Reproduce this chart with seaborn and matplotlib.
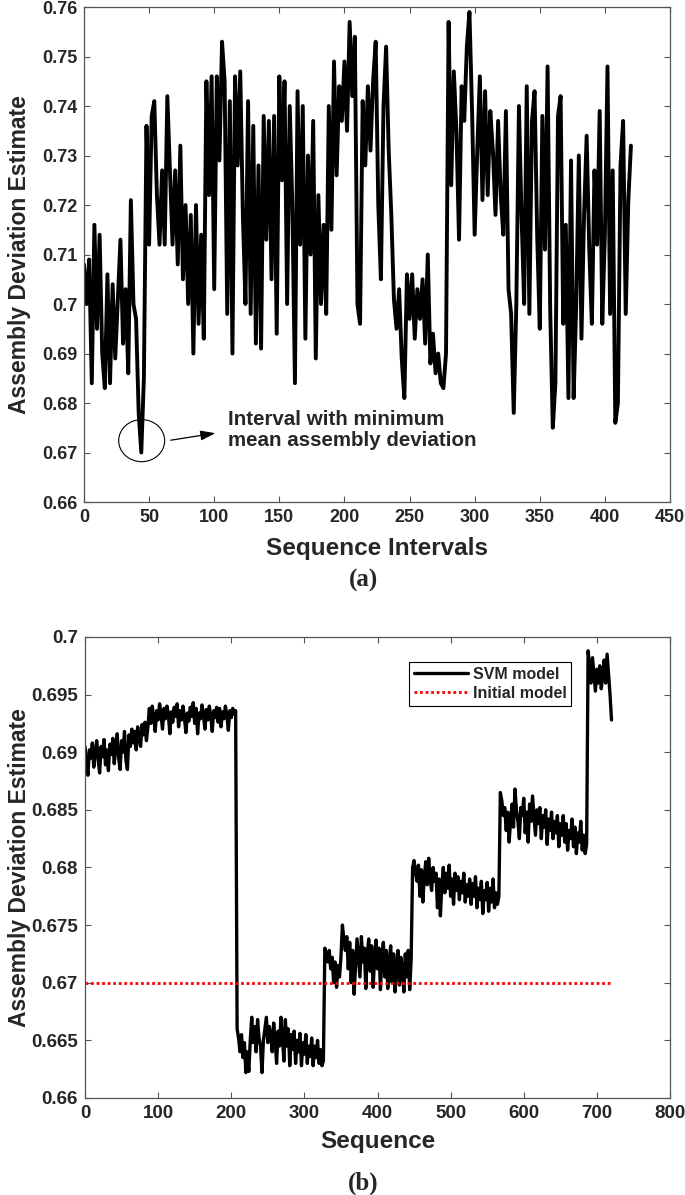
"""Assembly deviation estimate: interval sweep (a) and SVM vs initial model (b)."""

import numpy as np
import pandas as pd
import matplotlib
matplotlib.use("Agg")
import matplotlib.pyplot as plt
from matplotlib.patches import Ellipse
import seaborn as sns

# --- (a) mean assembly deviation per sequence interval (every 2nd interval) ---
interval_vals = [
    0.708, 0.700, 0.709, 0.684, 0.716, 0.695, 0.714, 0.690, 0.683, 0.706,
    0.684, 0.704, 0.689, 0.701, 0.713, 0.692, 0.703, 0.686, 0.721, 0.700,
    0.697, 0.678, 0.670, 0.685, 0.736, 0.712, 0.738, 0.741, 0.722, 0.712,
    0.727, 0.712, 0.742, 0.727, 0.712, 0.727, 0.708, 0.732, 0.705, 0.720,
    0.700, 0.718, 0.690, 0.720, 0.696, 0.714, 0.693, 0.745, 0.722, 0.746,
    0.703, 0.746, 0.729, 0.753, 0.745, 0.698, 0.741, 0.690, 0.746, 0.728,
    0.747, 0.718, 0.700, 0.741, 0.698, 0.736, 0.692, 0.728, 0.691, 0.738,
    0.713, 0.737, 0.705, 0.738, 0.694, 0.746, 0.725, 0.745, 0.700, 0.740,
    0.720, 0.684, 0.743, 0.712, 0.740, 0.693, 0.730, 0.710, 0.737, 0.689,
    0.722, 0.700, 0.716, 0.698, 0.740, 0.715, 0.749, 0.726, 0.744, 0.737,
    0.749, 0.735, 0.757, 0.742, 0.754, 0.700, 0.696, 0.741, 0.728, 0.744,
    0.731, 0.745, 0.753, 0.720, 0.705, 0.740, 0.752, 0.731, 0.718, 0.701,
    0.695, 0.703, 0.689, 0.681, 0.706, 0.697, 0.706, 0.693, 0.703, 0.697,
    0.705, 0.692, 0.710, 0.688, 0.694, 0.686, 0.690, 0.684, 0.683, 0.690,
    0.757, 0.724, 0.747, 0.735, 0.713, 0.744, 0.737, 0.752, 0.759, 0.739,
    0.714, 0.731, 0.746, 0.721, 0.743, 0.722, 0.739, 0.731, 0.718, 0.737,
    0.722, 0.714, 0.739, 0.703, 0.698, 0.678, 0.700, 0.740, 0.718, 0.700,
    0.744, 0.698, 0.737, 0.743, 0.714, 0.695, 0.738, 0.711, 0.748, 0.699,
    0.675, 0.684, 0.738, 0.742, 0.696, 0.716, 0.681, 0.729, 0.681, 0.700,
    0.730, 0.693, 0.718, 0.734, 0.711, 0.696, 0.727, 0.712, 0.739, 0.696,
    0.714, 0.748, 0.698, 0.727, 0.676, 0.680, 0.728, 0.737, 0.698, 0.721,
    0.732,
]
interval_x = np.arange(0, 2 * len(interval_vals), 2)

# --- (b) SVM model estimate along the sequence (every 2nd point) ---
svm_vals = [
    # 0-206
    0.6905, 0.6890, 0.6880, 0.6902, 0.6895, 0.6908, 0.6887, 0.6900, 0.6910, 0.6893,
    0.6882, 0.6905, 0.6896, 0.6911, 0.6889, 0.6902, 0.6884, 0.6907, 0.6898, 0.6912,
    0.6890, 0.6905, 0.6916, 0.6895, 0.6885, 0.6910, 0.6900, 0.6918, 0.6893, 0.6885,
    0.6915, 0.6905, 0.6920, 0.6908, 0.6918, 0.6902, 0.6922, 0.6912, 0.6905, 0.6924,
    0.6915, 0.6926, 0.6910, 0.6922,
    0.6938, 0.6925, 0.6940, 0.6930, 0.6918, 0.6936, 0.6928, 0.6942, 0.6932, 0.6920,
    0.6938, 0.6929, 0.6940, 0.6933, 0.6916, 0.6935, 0.6926, 0.6939, 0.6931, 0.6942,
    0.6922, 0.6936, 0.6928, 0.6940, 0.6930, 0.6917, 0.6934, 0.6927, 0.6939, 0.6931,
    0.6943, 0.6925, 0.6938, 0.6916, 0.6934, 0.6929, 0.6941, 0.6932, 0.6920, 0.6937,
    0.6928, 0.6940, 0.6931, 0.6918, 0.6936, 0.6930, 0.6939, 0.6926, 0.6938, 0.6922,
    0.6935, 0.6929, 0.6940, 0.6932, 0.6919, 0.6936, 0.6930, 0.6938, 0.6933, 0.6936,
    # 208-326
    0.6660, 0.6652, 0.6640, 0.6655, 0.6635, 0.6648, 0.6622, 0.6640, 0.6623, 0.6650,
    0.6670, 0.6648, 0.6662, 0.6640, 0.6668, 0.6652, 0.6645, 0.6622, 0.6650, 0.6660,
    0.6670, 0.6648, 0.6662, 0.6655, 0.6640, 0.6665, 0.6650, 0.6630, 0.6658, 0.6645,
    0.6670, 0.6652, 0.6632, 0.6668, 0.6645, 0.6660, 0.6628, 0.6655, 0.6642, 0.6658,
    0.6630, 0.6650, 0.6640, 0.6656, 0.6628, 0.6648, 0.6638, 0.6655, 0.6630, 0.6645,
    0.6636, 0.6652, 0.6628, 0.6645, 0.6635, 0.6650, 0.6630, 0.6642, 0.6628, 0.6632,
    # 328-446
    0.6730, 0.6725, 0.6718, 0.6728, 0.6712, 0.6722, 0.6700, 0.6718, 0.6696, 0.6715,
    0.6705, 0.6722, 0.6750, 0.6738, 0.6728, 0.6740, 0.6712, 0.6735, 0.6700, 0.6728,
    0.6690, 0.6715, 0.6738, 0.6722, 0.6705, 0.6740, 0.6718, 0.6730, 0.6695, 0.6725,
    0.6738, 0.6710, 0.6732, 0.6696, 0.6720, 0.6737, 0.6712, 0.6730, 0.6694, 0.6722,
    0.6735, 0.6705, 0.6728, 0.6695, 0.6718, 0.6732, 0.6700, 0.6725, 0.6692, 0.6715,
    0.6728, 0.6698, 0.6722, 0.6712, 0.6692, 0.6725, 0.6705, 0.6728, 0.6694, 0.6720,
    # 448-566
    0.6800, 0.6806, 0.6795, 0.6788, 0.6802, 0.6775, 0.6798, 0.6770, 0.6792, 0.6805,
    0.6785, 0.6808, 0.6790, 0.6780, 0.6800, 0.6788, 0.6795, 0.6765, 0.6790, 0.6758,
    0.6785, 0.6800, 0.6778, 0.6795, 0.6782, 0.6802, 0.6775, 0.6790, 0.6768, 0.6795,
    0.6780, 0.6792, 0.6772, 0.6788, 0.6778, 0.6795, 0.6770, 0.6785, 0.6775, 0.6790,
    0.6768, 0.6786, 0.6775, 0.6792, 0.6765, 0.6782, 0.6772, 0.6788, 0.6760, 0.6780,
    0.6772, 0.6787, 0.6762, 0.6782, 0.6770, 0.6790, 0.6765, 0.6778, 0.6768, 0.6775,
    # 568-686
    0.6865, 0.6858, 0.6845, 0.6852, 0.6832, 0.6848, 0.6822, 0.6840, 0.6855, 0.6835,
    0.6868, 0.6850, 0.6840, 0.6825, 0.6852, 0.6845, 0.6860, 0.6830, 0.6848, 0.6822,
    0.6855, 0.6840, 0.6862, 0.6845, 0.6828, 0.6850, 0.6838, 0.6852, 0.6825, 0.6845,
    0.6835, 0.6850, 0.6820, 0.6842, 0.6832, 0.6848, 0.6825, 0.6840, 0.6830, 0.6845,
    0.6818, 0.6838, 0.6828, 0.6845, 0.6822, 0.6838, 0.6815, 0.6832, 0.6825, 0.6842,
    0.6818, 0.6835, 0.6812, 0.6830, 0.6822, 0.6840, 0.6815, 0.6828, 0.6812, 0.6820,
    # 688-720
    0.6988, 0.6975, 0.6960, 0.6982, 0.6968, 0.6953, 0.6972, 0.6960, 0.6975, 0.6955,
    0.6966, 0.6980, 0.6960, 0.6985, 0.6968, 0.6950, 0.6928,
]
svm_x = np.arange(0, 2 * len(svm_vals), 2)
initial_level = 0.67
initial_span = [0, 720]

top_xticks = list(range(0, 451, 50))
top_yticks = [0.66, 0.67, 0.68, 0.69, 0.70, 0.71, 0.72, 0.73, 0.74, 0.75, 0.76]
bot_xticks = list(range(0, 801, 100))
bot_yticks = [0.66, 0.665, 0.67, 0.675, 0.68, 0.685, 0.69, 0.695, 0.70]

sns.set_style("ticks")
plt.rcParams["font.family"] = ["Liberation Sans", "DejaVu Sans"]
plt.rcParams["font.weight"] = "bold"


def style_axes(ax, xticks, yticks, size):
    ax.set_xticks(xticks)
    ax.set_yticks(yticks)
    ax.set_xticklabels([f"{t:g}" for t in xticks], fontsize=size, fontweight="bold")
    ax.set_yticklabels([f"{t:g}" for t in yticks], fontsize=size, fontweight="bold")
    ax.tick_params(direction="in", top=True, right=True, length=4, pad=5,
                   width=0.8, color="#555555", labeltop=False, labelright=False)
    for sp in ax.spines.values():
        sp.set_visible(True)
        sp.set_color("#555555")
        sp.set_linewidth(0.9)


fig = plt.figure(figsize=(6.85, 11.95), dpi=100)
ax1 = fig.add_axes([0.1226, 0.5799, 0.8555, 0.4142])
ax2 = fig.add_axes([0.1241, 0.0812, 0.8540, 0.3858])

# (a)
df_a = pd.DataFrame({"interval": interval_x, "dev": interval_vals})
sns.lineplot(data=df_a, x="interval", y="dev", ax=ax1, color="black",
             linewidth=2.8, estimator=None, sort=False)
ax1.set_xlim(0, 450)
ax1.set_ylim(0.66, 0.76)
style_axes(ax1, top_xticks, top_yticks, 13)
ax1.set_xlabel("Sequence Intervals", fontsize=17.5, fontweight="bold")
ax1.set_ylabel("Assembly Deviation Estimate", fontsize=16.5, fontweight="bold")
ax1.xaxis.set_label_coords(0.5, -0.07)
ax1.yaxis.set_label_coords(-0.09, 0.5)

ax1.add_patch(Ellipse((44.3, 0.6724), 35.3, 0.0085, fill=False,
                      edgecolor="black", linewidth=0.8))
ax1.annotate("", xy=(103, 0.6740), xytext=(64.5, 0.6724),
             arrowprops=dict(arrowstyle="-|>,head_length=0.9,head_width=0.3",
                             color="black", lw=0.9))
ax1.text(110.5, 0.6745, "Interval with minimum\nmean assembly deviation",
         fontsize=14.8, fontweight="bold", ha="left", va="center",
         linespacing=1.15)

# (b)
df_b = pd.DataFrame({"seq": svm_x, "dev": svm_vals})
sns.lineplot(data=df_b, x="seq", y="dev", ax=ax2, color="black",
             linewidth=2.4, estimator=None, sort=False, label="SVM model")
df_init = pd.DataFrame({"seq": initial_span, "dev": [initial_level] * 2})
sns.lineplot(data=df_init, x="seq", y="dev", ax=ax2, color="red",
             linewidth=2.0, linestyle=(0, (1, 1)), label="Initial model")
ax2.set_xlim(0, 800)
ax2.set_ylim(0.66, 0.70)
style_axes(ax2, bot_xticks, bot_yticks, 13.5)
ax2.set_xlabel("Sequence", fontsize=17.5, fontweight="bold")
ax2.set_ylabel("Assembly Deviation Estimate", fontsize=16.5, fontweight="bold")
ax2.xaxis.set_label_coords(0.5, -0.07)
ax2.yaxis.set_label_coords(-0.092, 0.5)

leg = ax2.legend(loc="upper right", bbox_to_anchor=(0.845, 0.963),
                 fontsize=11.5, handlelength=3.4, handletextpad=0.3,
                 borderpad=0.3, labelspacing=0.25, fancybox=False, framealpha=1)
leg.get_frame().set_edgecolor("black")
leg.get_frame().set_linewidth(0.8)
for t in leg.get_texts():
    t.set_fontweight("bold")

fig.text(0.53, 1 - 580 / 1195, "(a)", fontsize=18, fontweight="bold",
         family="Liberation Serif", ha="center", va="center")
fig.text(0.53, 1 - 1183 / 1195, "(b)", fontsize=18, fontweight="bold",
         family="Liberation Serif", ha="center", va="center")

fig.savefig("out.png", dpi=100)
plt.close(fig)
